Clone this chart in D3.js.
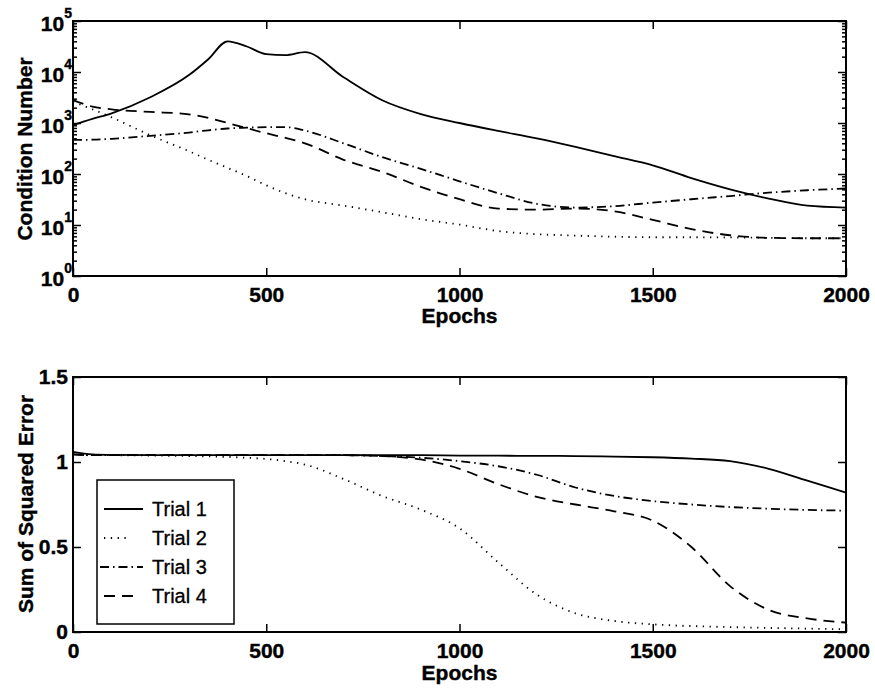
<!DOCTYPE html>
<html>
<head>
<meta charset="utf-8">
<script src="https://cdn.jsdelivr.net/npm/d3@7"></script>
<style>
body { margin: 0; background: #fff; }
svg text { font-family: "Liberation Sans", Arial, sans-serif; fill: #000; }
.tick text { font-size: 21px; font-weight: bold; stroke: #000; stroke-width: 0.4px; }
.lab { font-size: 21px; font-weight: bold; stroke: #000; stroke-width: 0.4px; }
</style>
</head>
<body>
<div id="chart"></div>
<script>
// sampled epochs, shared by every series
var epochs = [0,50,100,200,300,350,400,450,500,550,600,700,800,900,1000,1100,1200,1300,1400,1500,1600,1700,1800,1900,2000]

// condition number per trial (top panel)
var cond1 = [910,1200,1550,3200,8700,17800,40000,31600,22400,21400,24500,7900,2800,1500,1000,700,500,340,225,148,83,50,33,24,22]
var cond2 = [2600,1860,1290,575,280,190,132,91,60,42,32,24,17.8,13,10.2,7.6,6.6,6.2,5.9,5.75,5.75,5.7,5.6,5.5,5.5]
var cond3 = [465,470,490,560,650,720,780,810,830,830,710,400,214,126,72,42,26,22,23.4,27.5,32,37,43,48,52]
var cond4 = [2800,2100,1850,1650,1480,1260,1000,790,630,510,400,190,110,56,32,21,20,21,18.6,12.6,8.3,6.3,5.6,5.5,5.5]

// sum of squared error per trial (bottom panel)
var sse1 = [1.06,1.045,1.042,1.04,1.04,1.04,1.04,1.04,1.04,1.04,1.04,1.04,1.04,1.04,1.038,1.037,1.036,1.035,1.032,1.028,1.02,1.005,0.96,0.89,0.82]
var sse2 = [1.045,1.04,1.04,1.038,1.035,1.033,1.03,1.025,1.018,1.005,0.985,0.90,0.80,0.72,0.61,0.41,0.22,0.11,0.065,0.045,0.035,0.029,0.024,0.02,0.016]
var sse3 = [1.045,1.04,1.04,1.04,1.04,1.04,1.04,1.04,1.04,1.04,1.04,1.04,1.035,1.025,1.005,0.975,0.925,0.85,0.80,0.77,0.75,0.735,0.725,0.718,0.714]
var sse4 = [1.045,1.04,1.04,1.04,1.04,1.04,1.04,1.04,1.04,1.04,1.04,1.04,1.035,1.015,0.96,0.87,0.795,0.75,0.71,0.655,0.50,0.27,0.13,0.08,0.055]

var trialNames = ['Trial 1','Trial 2','Trial 3','Trial 4']
var dashes = [null,'1.3,5.5','9,4,1.5,4','11,7']
var xTicks = [0,500,1000,1500,2000]
var logTicks = [1,10,100,1000,10000,100000]
var sseTicks = [0,0.5,1,1.5]

var width = 875
var height = 690

var svg = d3.select('#chart')
			.append('svg')
			.attr('width',width)
			.attr('height',height)

var left = 73, right = 846

var x = d3.scaleLinear().domain([0,2000]).range([left,right])

// ---- top panel
var topY0 = 21, topY1 = 276
var yLog = d3.scaleLog().domain([1,100000]).range([topY1,topY0])

// ---- bottom panel
var botY0 = 377, botY1 = 632
var ySse = d3.scaleLinear().domain([0,1.5]).range([botY1,botY0])

function cleanAxis(g){
	g.select('.domain').remove()
	g.selectAll('.tick line').attr('stroke','#000').attr('stroke-width',1.5)
}

function frame(y0,y1){
	svg.append('rect')
		.attr('x',left).attr('y',y0)
		.attr('width',right-left).attr('height',y1-y0)
		.attr('fill','none').attr('stroke','#000').attr('stroke-width',2)
}

function xAxes(y0,y1){
	svg.append('g').attr('transform','translate(0,'+y1+')')
		.call(d3.axisBottom(x).tickValues(xTicks).tickSize(-8).tickPadding(11).tickFormat(d3.format('d')))
		.call(cleanAxis)
	svg.append('g').attr('transform','translate(0,'+y0+')')
		.call(d3.axisTop(x).tickValues(xTicks).tickSize(-8).tickFormat(''))
		.call(cleanAxis)
}

// top panel axes
frame(topY0,topY1)
xAxes(topY0,topY1)

var minor = []
for (var k=0;k<5;k++){ for (var m=2;m<10;m++){ minor.push(m*Math.pow(10,k)) } }

svg.append('g').attr('transform','translate('+left+',0)')
	.call(d3.axisLeft(yLog).tickValues(logTicks).tickSize(-8).tickFormat(''))
	.call(cleanAxis)
svg.append('g').attr('transform','translate('+right+',0)')
	.call(d3.axisRight(yLog).tickValues(logTicks).tickSize(-8).tickFormat(''))
	.call(cleanAxis)
svg.append('g').attr('transform','translate('+left+',0)')
	.call(d3.axisLeft(yLog).tickValues(minor).tickSize(-4).tickFormat(''))
	.call(cleanAxis)
svg.append('g').attr('transform','translate('+right+',0)')
	.call(d3.axisRight(yLog).tickValues(minor).tickSize(-4).tickFormat(''))
	.call(cleanAxis)

// 10^n labels
var logLab = svg.append('g')
logTicks.forEach(function(v){
	var t = logLab.append('text')
		.attr('class','lab')
		.attr('x',left-1)
		.attr('y',yLog(v)+10)
		.attr('text-anchor','end')
	t.append('tspan').text('10')
	t.append('tspan').attr('dy',-13).style('font-size','14px').text(Math.round(Math.log10(v)))
})

// bottom panel axes
frame(botY0,botY1)
xAxes(botY0,botY1)
svg.append('g').attr('transform','translate('+left+',0)')
	.call(d3.axisLeft(ySse).tickValues(sseTicks).tickSize(-8).tickPadding(5).tickFormat(function(d){ return d }))
	.call(cleanAxis)
svg.append('g').attr('transform','translate('+right+',0)')
	.call(d3.axisRight(ySse).tickValues(sseTicks).tickSize(-8).tickFormat(''))
	.call(cleanAxis)

// axis titles
function label(txt,xp,yp,rot){
	svg.append('text')
		.attr('class','lab')
		.attr('transform','translate('+xp+','+yp+')'+(rot?' rotate(-90)':''))
		.attr('text-anchor','middle')
		.text(txt)
}
label('Epochs',(left+right)/2,323,false)
label('Epochs',(left+right)/2,680,false)
label('Condition Number',32,149,true)
label('Sum of Squared Error',33,504,true)

// lines
var condData = [cond1,cond2,cond3,cond4]
var sseData = [sse1,sse2,sse3,sse4]

var lineTop = d3.line()
	.x(function(d,i){ return x(epochs[i]) })
	.y(function(d){ return yLog(d) })
	.curve(d3.curveMonotoneX)
var lineBot = d3.line()
	.x(function(d,i){ return x(epochs[i]) })
	.y(function(d){ return ySse(d) })
	.curve(d3.curveMonotoneX)

condData.forEach(function(s,i){
	svg.append('path').datum(s)
		.attr('d',lineTop)
		.attr('fill','none').attr('stroke','#000')
		.attr('stroke-width',1.8)
		.attr('stroke-dasharray',dashes[i])
})
sseData.forEach(function(s,i){
	svg.append('path').datum(s)
		.attr('d',lineBot)
		.attr('fill','none').attr('stroke','#000')
		.attr('stroke-width',1.8)
		.attr('stroke-dasharray',dashes[i])
})

// legend
var sampleX0 = [104,104,100,104]
var sampleX1 = [143,131,143,136]
var lg = svg.append('g')
lg.append('rect')
	.attr('x',97).attr('y',480).attr('width',137).attr('height',144)
	.attr('fill','#fff').attr('stroke','#000').attr('stroke-width',1.5)
trialNames.forEach(function(n,i){
	var yy = 509 + i*29
	lg.append('line')
		.attr('x1',sampleX0[i]).attr('x2',sampleX1[i]).attr('y1',yy).attr('y2',yy)
		.attr('stroke','#000').attr('stroke-width',1.8)
		.attr('stroke-dasharray',dashes[i])
	lg.append('text')
		.attr('x',152).attr('y',yy+7)
		.style('font-size','20px').style('stroke','#000').style('stroke-width','0.3px')
		.text(n)
})
</script>
</body>
</html>
